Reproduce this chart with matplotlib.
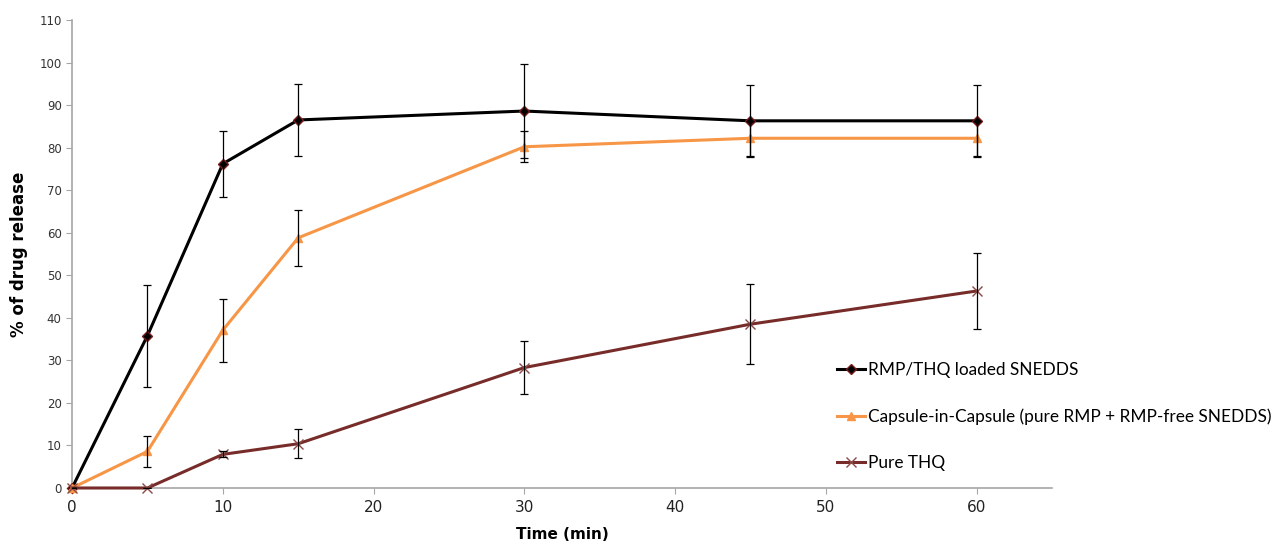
#!/usr/bin/env python3
"""Cumulative drug release profiles (SNEDDS vs capsule-in-capsule vs pure THQ)."""

import matplotlib

matplotlib.use("Agg")
import matplotlib.pyplot as plt

TIME = [0, 5, 10, 15, 30, 45, 60]

SNEDDS = [0, 35.8, 76.2, 86.5, 88.6, 86.3, 86.3]
SNEDDS_ERR = [0, 12.0, 7.7, 8.4, 11.1, 8.4, 8.4]

CAPSULE = [0, 8.6, 37.1, 58.8, 80.2, 82.2, 82.2]
CAPSULE_ERR = [0, 3.7, 7.4, 6.6, 3.6, 4.1, 4.1]

PURE_THQ = [0, 0, 7.9, 10.4, 28.3, 38.5, 46.3]
PURE_THQ_ERR = [0, 0, 0.7, 3.4, 6.2, 9.4, 9.0]

LABELS = [
    "RMP/THQ loaded SNEDDS",
    "Capsule-in-Capsule (pure RMP + RMP-free SNEDDS)",
    "Pure THQ",
]

X_TICKS = [0, 10, 20, 30, 40, 50, 60]
Y_TICKS = list(range(0, 111, 10))

AXIS_GREY = "#a6a6a6"


def main() -> None:
    fig = plt.figure(figsize=(12.82, 5.43), dpi=100)
    ax = fig.add_axes([0.0562, 0.1013, 0.7644, 0.8619])

    series = [
        (SNEDDS, SNEDDS_ERR, "#000000", "D", 5, "#000000", "#7a1a1a"),
        (CAPSULE, CAPSULE_ERR, "#f79646", "^", 6, "#f79646", "#f79646"),
        (PURE_THQ, PURE_THQ_ERR, "#772c2a", "x", 7, "#8b4a48", "#8b4a48"),
    ]

    handles = []
    for (vals, errs, color, marker, ms, mfc, mec), label in zip(series, LABELS):
        (line,) = ax.plot(
            TIME,
            vals,
            color=color,
            linewidth=2.2,
            marker=marker,
            markersize=ms,
            markerfacecolor=mfc,
            markeredgecolor=mec,
            markeredgewidth=1.0,
            label=label,
            zorder=3,
            clip_on=False,
        )
        handles.append(line)

    for vals, errs, *_ in series:
        ax.errorbar(
            TIME,
            vals,
            yerr=errs,
            fmt="none",
            ecolor="#000000",
            elinewidth=0.9,
            capsize=3,
            capthick=0.9,
            zorder=4,
        )

    ax.set_xlim(0, 65)
    ax.set_ylim(0, 110)
    ax.set_xticks(X_TICKS)
    ax.set_yticks(Y_TICKS)

    for side in ("top", "right"):
        ax.spines[side].set_visible(False)
    for side in ("left", "bottom"):
        ax.spines[side].set_color(AXIS_GREY)
        ax.spines[side].set_linewidth(1.2)

    ax.tick_params(axis="y", colors=AXIS_GREY, labelcolor="#333333",
                   labelsize=8.5, length=4, direction="out")
    ax.tick_params(axis="x", colors=AXIS_GREY, labelcolor="#222222",
                   labelsize=11, length=4, direction="out", pad=5)

    ax.set_xlabel("Time (min)", fontsize=11, fontweight="bold", labelpad=8)
    ax.set_ylabel("% of drug release", fontsize=12, fontweight="bold", labelpad=8)

    fig.legend(
        handles=handles,
        labels=LABELS,
        loc="upper left",
        bbox_to_anchor=(0.641, 0.362),
        frameon=False,
        handlelength=1.6,
        handletextpad=0.2,
        labelspacing=1.75,
        prop={"family": "Lato", "size": 12.4},
    )

    fig.savefig("out.png", dpi=100, facecolor="white")
    plt.close(fig)


if __name__ == "__main__":
    main()
